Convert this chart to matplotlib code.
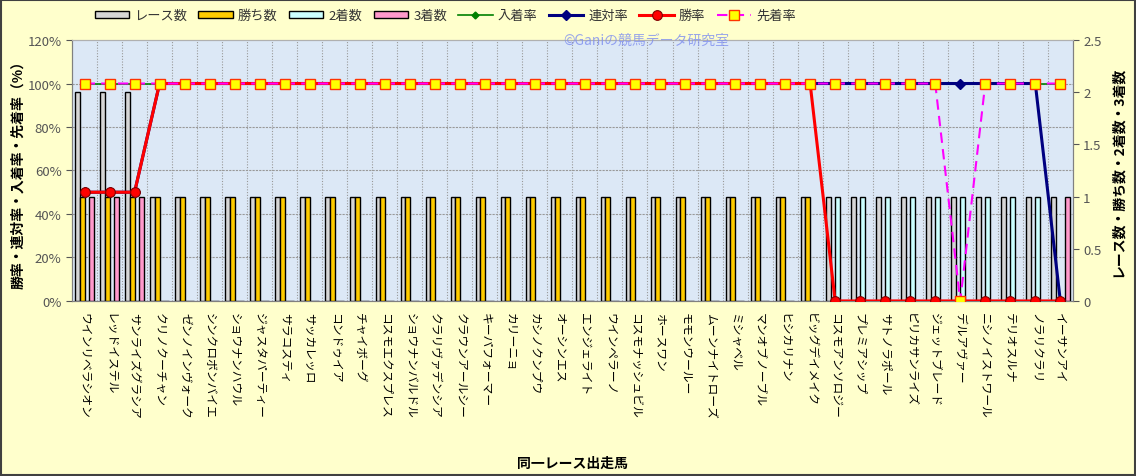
import numpy as np
import matplotlib
matplotlib.use("Agg")
import matplotlib.pyplot as plt
from matplotlib.patches import Rectangle

plt.rcParams['font.family'] = ['Noto Sans CJK JP', 'DejaVu Sans']

horses = ["ウインリベラシオン", "レッドイステル", "サンライズグラシア", "クリノクーチャン",
          "ゼンノインヴォーク", "シンクロボンバイエ", "ショウナンハウル", "ジャスタパーティー",
          "サラコスティ", "サッカレッロ", "コンドゥイア", "チャイボーグ",
          "コスモエクスプレス", "ショウナンバルドル", "クラリヴァデンシア", "クラウンアールシー",
          "キーパフォーマー", "カリーニョ", "カシノクンプウ", "オーシンエス",
          "エンジェライト", "ウインペラーノ", "コスモナッシュビル", "ホースワン",
          "モモンウールー", "ムーンナイトローズ", "ミシャベル", "マンオブノーブル",
          "ヒシカリナン", "ビッグデイメイク", "コスモアンソロジー", "プレミアシップ",
          "サトノラポール", "ピリカサンライズ", "ジェットブレード", "デルアヴァー",
          "ニシノイストワール", "テリオスルナ", "ノラリクラリ", "イーサンアイ"]

races = [2, 2, 2] + [1] * 37
wins = [1] * 30 + [0] * 10
seconds = [0] * 30 + [1] * 9 + [0]
thirds = [1, 1, 1] + [0] * 36 + [1]

place_rate = [100] * 40
rentai_rate = [50, 50, 50] + [100] * 36 + [0]
win_rate = [50, 50, 50] + [100] * 27 + [0] * 10
beat_rate = [100] * 35 + [0] + [100] * 4

pct_ticks = [0, 20, 40, 60, 80, 100, 120]
count_ticks = [0, 0.5, 1, 1.5, 2, 2.5]


def main():
    fig = plt.figure(figsize=(11.36, 4.77), dpi=100, facecolor="#ffffcc")
    fig.patches.append(Rectangle((0.001, 0.002), 0.998, 0.996, transform=fig.transFigure,
                                 fill=False, edgecolor="#404040", linewidth=1.5))
    ax = fig.add_axes([0.0634, 0.367, 0.881, 0.547])
    ax2 = ax.twinx()
    ax.set_facecolor("#dce8f6")
    x = np.arange(len(horses))
    w = 0.185

    # bars on the count axis (right side)
    ax.bar(x - 1.5 * w, races, w, color="#d6d6d6", edgecolor="black", linewidth=1, label="レース数", zorder=3)
    ax.bar(x - 0.5 * w, wins, w, color="#ffcc00", edgecolor="black", linewidth=1, label="勝ち数", zorder=3)
    ax.bar(x + 0.5 * w, seconds, w, color="#ccffff", edgecolor="black", linewidth=1, label="2着数", zorder=3)
    ax.bar(x + 1.5 * w, thirds, w, color="#ff99cc", edgecolor="black", linewidth=1, label="3着数", zorder=3)
    ax.set_ylim(0, 2.5)
    ax.set_xlim(-0.5, len(horses) - 0.5)
    ax.yaxis.tick_right()
    ax.yaxis.set_label_position("right")
    ax.set_yticks(count_ticks)
    ax.set_yticklabels(["0", "0.5", "1", "1.5", "2", "2.5"])
    ax.set_ylabel("レース数・勝ち数・2着数・3着数", rotation=90, fontsize=10, fontweight="bold")
    ax.yaxis.set_label_coords(1.038, 0.5)
    for p in pct_ticks[1:-1]:
        ax.axhline(p / 120 * 2.5, color="#999999", linewidth=0.8, linestyle=(0, (2, 1)), zorder=1)
    for i in range(len(horses) - 1):
        ax.axvline(i + 0.5, color="#999999", linewidth=0.8, linestyle=(0, (1, 1.5)), zorder=1)
    ax.set_xticks(x)
    ax.set_xticklabels(horses, rotation=270, ha="center", va="top", fontsize=8.5)
    ax.tick_params(axis="x", length=0, pad=8)
    ax.tick_params(axis="y", colors="#555555", labelsize=9.5, direction="out", length=4)
    ax.set_xlabel("同一レース出走馬", fontsize=10, fontweight="bold")
    ax.xaxis.set_label_coords(0.5, -0.595)

    # rate lines on the percent axis (left side)
    ax2.plot(x, place_rate, color="#008000", linewidth=1.2, marker="D", markersize=3.5, label="入着率", zorder=4)
    ax2.plot(x, rentai_rate, color="#000080", linewidth=2.2, marker="D", markersize=5, label="連対率", zorder=5)
    ax2.plot(x, win_rate, color="#ff0000", linewidth=2.2, marker="o", markersize=7,
             markeredgecolor="#800000", markeredgewidth=0.8, label="勝率", zorder=6)
    ax2.plot(x, beat_rate, color="#ff00ff", linewidth=1.5, linestyle=(0, (5, 3)), marker="s", markersize=7,
             markerfacecolor="#ffff00", markeredgecolor="#ff3300", markeredgewidth=1, label="先着率", zorder=7)
    ax2.set_ylim(0, 120)
    ax2.yaxis.tick_left()
    ax2.yaxis.set_label_position("left")
    ax2.set_yticks(pct_ticks)
    ax2.set_yticklabels([f"{p}%" for p in pct_ticks])
    ax2.tick_params(axis="y", colors="#555555", labelsize=9.5, direction="out", length=4)
    ax2.set_ylabel("勝率・連対率・入着率・先着率（%）", rotation=90, fontsize=10, fontweight="bold")
    ax2.yaxis.set_label_coords(-0.047, 0.5)

    for a in (ax, ax2):
        for s in a.spines.values():
            s.set_color("#808080")
        a.spines["top"].set_color("#b0b0b0")

    h1, l1 = ax.get_legend_handles_labels()
    h2, l2 = ax2.get_legend_handles_labels()
    fig.legend(h1 + h2, l1 + l2, loc="center", bbox_to_anchor=(0.392, 0.965), ncol=8, frameon=False,
               fontsize=9.5, handlelength=2.6, handleheight=0.5, columnspacing=0.85, handletextpad=0.4,
               labelcolor="#333333")

    fig.text(0.569, 0.914, "©Ganiの競馬データ研究室", ha="center", va="center", fontsize=10,
             color="#7f8ff0", alpha=0.8)

    fig.savefig("out.png", dpi=100, facecolor=fig.get_facecolor())


if __name__ == "__main__":
    main()
